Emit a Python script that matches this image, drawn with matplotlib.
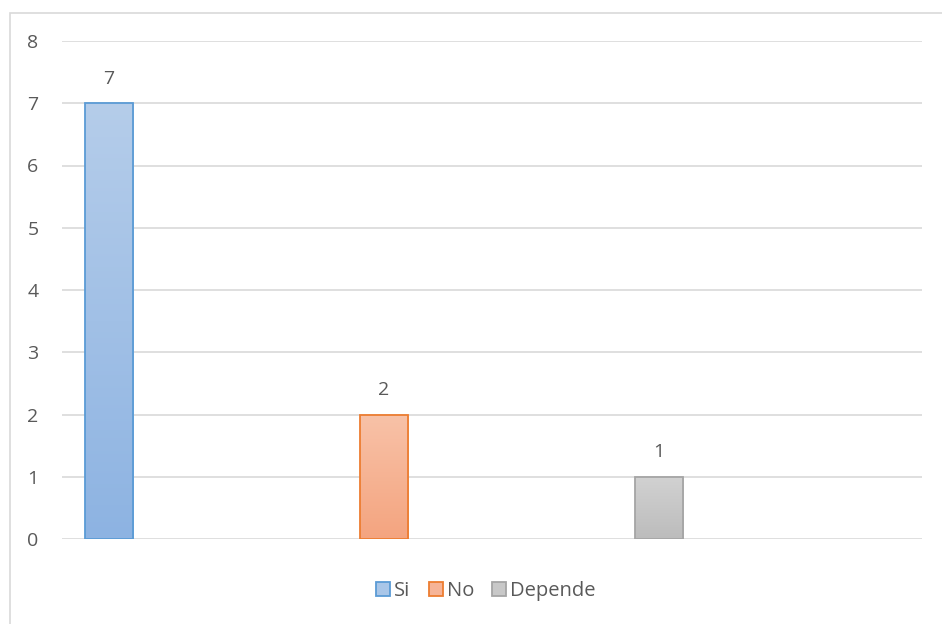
import numpy as np
import matplotlib.pyplot as plt
from matplotlib.colors import LinearSegmentedColormap
from matplotlib.patches import Patch, Rectangle

plt.rcParams['font.family'] = ['Open Sans', 'DejaVu Sans']

categories = ["Si", "No", "Depende"]
values = [7, 2, 1]
yticks = [0, 1, 2, 3, 4, 5, 6, 7, 8]

edge_colors = ["#5b9bd5", "#ed7d31", "#a5a5a5"]
top_colors = ["#b5cdea", "#f8c2a8", "#d2d2d2"]
bottom_colors = ["#8db3e2", "#f4a47f", "#bcbcbc"]
face_colors = ["#a9c6e8", "#f6b497", "#c8c8c8"]
text_color = "#595959"

fig = plt.figure(figsize=(9.42, 6.24), dpi=100)
ax = fig.add_axes([62 / 942, 1 - 539 / 624, 860 / 942, 498 / 624])

# outer chart frame (only top and left edges fall inside the image)
fig.patches.append(Rectangle((9.5 / 942, -0.1), 2, (624 - 12.5) / 624 + 0.1,
                             transform=fig.transFigure, fill=False,
                             edgecolor="#d9d9d9", linewidth=1.2))

x = np.arange(len(categories))
width = 0.175
bars = ax.bar(x, values, width=width, color="none", edgecolor=edge_colors,
              linewidth=1.3, zorder=3)

# vertical gradient fill clipped to each bar
for bar, top, bottom in zip(bars, top_colors, bottom_colors):
    cmap = LinearSegmentedColormap.from_list("g", [bottom, top])
    grad = np.linspace(0, 1, 256).reshape(-1, 1)
    x0, y0 = bar.get_x(), bar.get_y()
    im = ax.imshow(grad, cmap=cmap, origin="lower", aspect="auto",
                   extent=[x0, x0 + bar.get_width(), y0, y0 + bar.get_height()],
                   zorder=2)
    im.set_clip_path(bar)

for xi, v in zip(x, values):
    ax.text(xi, v + 0.25, str(v), ha="center", va="bottom",
            fontsize=14, color=text_color)

ax.set_xlim(-0.171, 2.956)
ax.set_ylim(0, 8)
ax.set_yticks(yticks)
ax.set_xticks([])
ax.tick_params(axis="y", length=0, pad=25, labelsize=14, labelcolor=text_color)
for lbl in ax.get_yticklabels():
    lbl.set_horizontalalignment("left")
ax.grid(axis="y", color="#d9d9d9", linewidth=1.2, zorder=0)
for s in ax.spines.values():
    s.set_visible(False)

handles = [Patch(facecolor=f, edgecolor=e, linewidth=1.3)
           for f, e in zip(face_colors, edge_colors)]
fig.legend(handles, categories, loc="center", bbox_to_anchor=(486 / 942, 1 - 591 / 624),
           ncol=3, frameon=False, fontsize=14.5, handlelength=0.7, handleheight=0.7,
           handletextpad=0.2, columnspacing=0.9, labelcolor=text_color)

fig.savefig("out.png", dpi=100, facecolor="white")
